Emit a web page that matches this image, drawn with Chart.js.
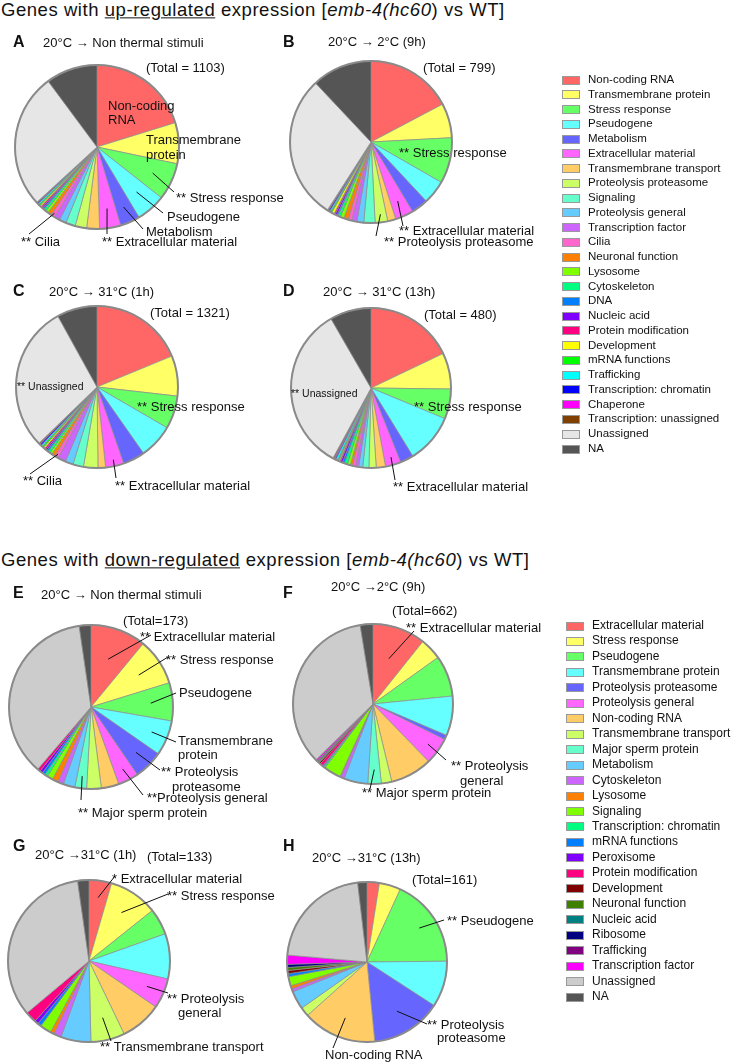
<!DOCTYPE html>
<html>
<head>
<meta charset="utf-8">
<script src="https://cdn.jsdelivr.net/npm/chart.js@4.4.1/dist/chart.umd.min.js"></script>
<style>
    body { margin: 0; background: #fff; }
    #fig {
        position: relative; width: 738px; height: 1063px; overflow: hidden;
        font-family: "Liberation Sans", Arial, Helvetica, sans-serif; color: #111;
    }
    #fig canvas { position: absolute; }
    .t { position: absolute; white-space: nowrap; line-height: 1.15; transform: translateY(-50%); }
    .title { font-size: 18.5px; letter-spacing: 0.55px; }
    .letter { font-size: 16px; font-weight: bold; }
    .sub, .total { font-size: 13px; }
    .leg { font-size: 11.5px; }
    .leg2 { font-size: 12px; }
    .sw { position: absolute; box-sizing: border-box; border: 1.5px solid #999; }
</style>
</head>
<body>
<div id="fig"></div>
<script>
/* ---- 상향 조절 유전자 카테고리 (A-D) ---- */
var upCategories = ['Non-coding RNA', 'Transmembrane protein', 'Stress response', 'Pseudogene', 'Metabolism',
    'Extracellular material', 'Transmembrane transport', 'Proteolysis proteasome', 'Signaling', 'Proteolysis general',
    'Transcription factor', 'Cilia', 'Neuronal function', 'Lysosome', 'Cytoskeleton', 'DNA', 'Nucleic acid',
    'Protein modification', 'Development', 'mRNA functions', 'Trafficking', 'Transcription: chromatin', 'Chaperone',
    'Transcription: unassigned', 'Unassigned', 'NA'];
var upColors = ['#ff6666', '#ffff66', '#66ff66', '#66ffff', '#6666ff', '#ff66ff', '#ffcc66', '#ccff66', '#66ffcc',
    '#66ccff', '#cc66ff', '#ff66cc', '#ff8000', '#80ff00', '#00ff80', '#0080ff', '#8000ff', '#ff0080', '#ffff00',
    '#00ff00', '#00ffff', '#0000ff', '#ff00ff', '#804000', '#e6e6e6', '#555555'];

var upA = [223, 89, 81, 64, 43, 46, 28, 25, 21, 15, 12, 9, 8, 6, 5, 3, 3, 3, 3, 3, 3, 2, 1, 1, 294, 112];
var upB = [138, 55, 73, 38, 27, 29, 13, 20, 18, 11, 8, 6, 7, 6, 4, 2, 3, 2, 4, 2, 2, 2, 1, 1, 231, 96];
var upC = [248, 106, 87, 91, 58, 48, 20, 38, 28, 21, 21, 10, 9, 6, 6, 4, 4, 4, 4, 4, 4, 4, 2, 2, 386, 106];
var upD = [86, 35, 29, 48, 13, 15, 9, 7, 6, 4, 3, 3, 2, 3, 3, 2, 2, 1, 1, 1, 2, 1, 1, 1, 162, 40];

/* ---- 하향 조절 유전자 카테고리 (E-H) ---- */
var downCategories = ['Extracellular material', 'Stress response', 'Pseudogene', 'Transmembrane protein',
    'Proteolysis proteasome', 'Proteolysis general', 'Non-coding RNA', 'Transmembrane transport',
    'Major sperm protein', 'Metabolism', 'Cytoskeleton', 'Lysosome', 'Signaling', 'Transcription: chromatin',
    'mRNA functions', 'Peroxisome', 'Protein modification', 'Development', 'Neuronal function', 'Nucleic acid',
    'Ribosome', 'Trafficking', 'Transcription factor', 'Unassigned', 'NA'];
var downColors = ['#ff6666', '#ffff66', '#66ff66', '#66ffff', '#6666ff', '#ff66ff', '#ffcc66', '#ccff66', '#66ffcc',
    '#66ccff', '#cc66ff', '#ff8000', '#80ff00', '#00ff80', '#0080ff', '#8000ff', '#ff0080', '#800000', '#408000',
    '#008080', '#000080', '#800080', '#ff00ff', '#cccccc', '#555555'];

var downE = [19, 16, 13, 12, 10, 7, 6, 5, 4, 4, 2, 2, 2, 1, 1, 1, 1, 0, 0, 0, 0, 0, 0, 63, 4];
var downF = [71, 29, 55, 53, 6, 36, 56, 14, 18, 32, 5, 1, 23, 2, 1, 1, 4, 2, 1, 1, 1, 1, 2, 230, 17];
var downG = [6, 13, 7, 12, 0, 8, 11, 9, 0, 8, 2, 1, 3, 0, 1, 1, 3, 0, 0, 0, 0, 0, 0, 45, 3];
var downH = [4, 7, 29, 15, 23, 0, 24, 3, 0, 6, 1, 1, 3, 0, 1, 0, 0, 1, 1, 0, 1, 0, 3, 35, 3];

(function() {
    'use strict';

    var fig = document.getElementById('fig');
    var FONT = '"Liberation Sans", Arial, Helvetica, sans-serif';

    /* 텍스트 배치 헬퍼: x = 왼쪽, y = 세로 중앙 */
    function addText(html, x, y, cls) {
        var el = document.createElement('div');
        el.className = 't ' + cls;
        el.style.left = x + 'px';
        el.style.top = y + 'px';
        el.innerHTML = html;
        fig.appendChild(el);
        return el;
    }

    /* ---- 패널 설정 (pie 중심/반지름, 제목, 주석) ---- */
    var panels = [
        { letter: 'A', cx: 97, cy: 147, r: 82, cats: upCategories, colors: upColors, values: upA,
          pos: [13, 42, 43, 43, 146, 68], sub: '20°C → Non thermal stimuli', total: '(Total = 1103)',
          notes: [
            { text: [['Non-coding', 11, -41], ['RNA', 11, -27]] },
            { text: [['Transmembrane', 49, -7], ['protein', 49, 8]] },
            { slice: 'Stress response', f: 0.75, end: [77, 45], text: [['** Stress response', 79, 51]] },
            { slice: 'Pseudogene', f: 0.73, end: [66, 66], text: [['Pseudogene', 70, 70]] },
            { slice: 'Metabolism', f: 0.8, end: [46, 82], text: [['Metabolism', 49, 85]] },
            { slice: 'Extracellular material', f: 0.76, end: [10, 87], text: [['** Extracellular material', 5, 95]] },
            { slice: 'Cilia', f: 0.96, end: [-68, 87], text: [['** Cilia', -76, 95]] }
          ] },
        { letter: 'B', cx: 371, cy: 142, r: 81, cats: upCategories, colors: upColors, values: upB,
          pos: [283, 42, 328, 42, 423, 68], sub: '20°C → 2°C (9h)', total: '(Total = 799)',
          notes: [
            { text: [['** Stress response', 28, 11]] },
            { slice: 'Extracellular material', f: 0.8, end: [32, 84], text: [['** Extracellular material', 28, 89]] },
            { slice: 'Proteolysis proteasome', f: 0.9, end: [5, 94], text: [['** Proteolysis proteasome', 13, 100]] }
          ] },
        { letter: 'C', cx: 97, cy: 387, r: 81, cats: upCategories, colors: upColors, values: upC,
          pos: [13, 291, 49, 292, 150, 313], sub: '20°C → 31°C (1h)', total: '(Total = 1321)',
          notes: [
            { small: true, text: [['** Unassigned', -80, 0]] },
            { text: [['** Stress response', 40, 20]] },
            { slice: 'Cilia', f: 0.96, end: [-67, 87], text: [['** Cilia', -74, 94]] },
            { slice: 'Extracellular material', f: 0.92, end: [19, 91], text: [['** Extracellular material', 18, 99]] }
          ] },
        { letter: 'D', cx: 371, cy: 388, r: 80, cats: upCategories, colors: upColors, values: upD,
          pos: [283, 291, 323, 292, 424, 315], sub: '20°C → 31°C (13h)', total: '(Total = 480)',
          notes: [
            { small: true, text: [['** Unassigned', -80, 6]] },
            { text: [['** Stress response', 43, 19]] },
            { slice: 'Extracellular material', f: 0.9, end: [24, 92], text: [['** Extracellular material', 22, 99]] }
          ] },
        { letter: 'E', cx: 91, cy: 707, r: 82, cats: downCategories, colors: downColors, values: downE,
          pos: [13, 593, 41, 595, 123, 621], sub: '20°C → Non thermal stimuli', total: '(Total=173)',
          notes: [
            { slice: 'Extracellular material', f: 0.62, end: [60, -72], text: [['** Extracellular material', 49, -70]] },
            { slice: 'Stress response', f: 0.7, end: [77, -50], text: [['** Stress response', 75, -47]] },
            { slice: 'Pseudogene', f: 0.73, end: [85, -14], text: [['Pseudogene', 88, -14]] },
            { slice: 'Transmembrane protein', f: 0.8, end: [85, 35], text: [['Transmembrane', 87, 34], ['protein', 87, 48]] },
            { slice: 'Proteolysis proteasome', f: 0.78, end: [69, 63], text: [['** Proteolysis', 70, 65], ['proteasome', 81, 80]] },
            { slice: 'Proteolysis general', f: 0.85, end: [52, 88], text: [['**Proteolysis general', 56, 91]] },
            { slice: 'Major sperm protein', f: 0.85, end: [-10, 93], text: [['** Major sperm protein', -13, 106]] }
          ] },
        { letter: 'F', cx: 373, cy: 704, r: 80, cats: downCategories, colors: downColors, values: downF,
          pos: [283, 593, 331, 587, 392, 611], sub: '20°C →2°C (9h)', total: '(Total=662)',
          notes: [
            { slice: 'Extracellular material', f: 0.6, end: [41, -73], text: [['** Extracellular material', 33, -76]] },
            { slice: 'Proteolysis general', f: 0.85, end: [73, 56], text: [['** Proteolysis', 78, 62], ['general', 87, 77]] },
            { slice: 'Major sperm protein', f: 0.82, end: [-3, 85], text: [['** Major sperm protein', -11, 89]] }
          ] },
        { letter: 'G', cx: 89, cy: 961, r: 81, cats: downCategories, colors: downColors, values: downG,
          pos: [13, 846, 35, 855, 147, 857], sub: '20°C →31°C (1h)', total: '(Total=133)',
          notes: [
            { slice: 'Extracellular material', f: 0.79, end: [26, -85], text: [['* Extracellular material', 23, -82]] },
            { slice: 'Stress response', f: 0.72, end: [79, -67], text: [['** Stress response', 78, -65]] },
            { slice: 'Proteolysis general', f: 0.78, end: [79, 32], text: [['** Proteolysis', 78, 38], ['general', 89, 52]] },
            { slice: 'Transmembrane transport', f: 0.72, end: [22, 80], text: [['** Transmembrane transport', 11, 86]] }
          ] },
        { letter: 'H', cx: 367, cy: 962, r: 80, cats: downCategories, colors: downColors, values: downH,
          pos: [283, 846, 312, 858, 412, 880], sub: '20°C →31°C (13h)', total: '(Total=161)',
          notes: [
            { slice: 'Pseudogene', f: 0.78, end: [77, -42], text: [['** Pseudogene', 80, -41]] },
            { slice: 'Proteolysis proteasome', f: 0.72, end: [60, 62], text: [['** Proteolysis', 60, 63], ['proteasome', 70, 76]] },
            { slice: 'Non-coding RNA', f: 0.75, end: [-34, 86], text: [['Non-coding RNA', -42, 93]] }
          ] }
    ];

    /* ---- 플러그인: 외곽 테두리 + 주석/지시선 (패널 정보는 canvas에 보관) ---- */
    var pieNotes = {
        id: 'pieNotes',
        afterDatasetsDraw: function(chart) {
            var p = chart.canvas._panel;
            if (!p) return;
            var ctx = chart.ctx;
            var arcs = chart.getDatasetMeta(0).data;
            var c = arcs[0].getProps(['x', 'y', 'outerRadius'], true);

            ctx.save();
            ctx.beginPath();
            ctx.arc(c.x, c.y, c.outerRadius, 0, Math.PI * 2);
            ctx.lineWidth = 2;
            ctx.strokeStyle = '#8a8a8a';
            ctx.stroke();

            ctx.fillStyle = '#111';
            ctx.strokeStyle = '#111';
            ctx.lineWidth = 1;
            ctx.textBaseline = 'middle';
            p.notes.forEach(function(n) {
                if (n.slice) {
                    var idx = p.cats.indexOf(n.slice);
                    var a = arcs[idx].getProps(['startAngle', 'endAngle'], true);
                    var ang = a.startAngle + (a.endAngle - a.startAngle) * (n.t === undefined ? 0.5 : n.t);
                    var rr = c.outerRadius * n.f;
                    ctx.beginPath();
                    ctx.moveTo(c.x + Math.cos(ang) * rr, c.y + Math.sin(ang) * rr);
                    ctx.lineTo(c.x + n.end[0], c.y + n.end[1]);
                    ctx.stroke();
                }
                ctx.font = (n.small ? '10.5px ' : '13px ') + FONT;
                n.text.forEach(function(t) {
                    ctx.fillText(t[0], c.x + t[1], c.y + t[2]);
                });
            });
            ctx.restore();
        }
    };

    var W = 300, H = 235, OX = 100, OY = 115;

    panels.forEach(function(p) {
        var cv = document.createElement('canvas');
        cv.width = W;
        cv.height = H;
        cv.style.left = (p.cx - OX) + 'px';
        cv.style.top = (p.cy - OY) + 'px';
        cv._panel = p;
        fig.appendChild(cv);

        new Chart(cv, {
            type: 'pie',
            data: {
                labels: p.cats,
                datasets: [{
                    data: p.values,
                    backgroundColor: p.colors,
                    borderColor: '#8c8c8c',
                    borderWidth: 0.7
                }]
            },
            options: {
                responsive: false,
                animation: false,
                radius: p.r,
                layout: { padding: { left: OX - 95, top: OY - 95, right: W - OX - 95, bottom: H - OY - 95 } },
                plugins: {
                    legend: { display: false },
                    tooltip: { enabled: false }
                }
            },
            plugins: [pieNotes]
        });

        addText(p.letter, p.pos[0], p.pos[1], 'letter');
        addText(p.sub, p.pos[2], p.pos[3], 'sub');
        addText(p.total, p.pos[4], p.pos[5], 'total');
    });

    /* ---- 섹션 제목 ---- */
    addText('Genes with <u>up-regulated</u> expression [<i>emb-4(hc60</i>) vs WT]', 1, 10, 'title');
    addText('Genes with <u>down-regulated</u> expression [<i>emb-4(hc60</i>) vs WT]', 1, 560, 'title');

    /* ---- 범례 (HTML) ---- */
    function legend(cats, colors, x, y0, step, cls) {
        cats.forEach(function(name, i) {
            var y = y0 + i * step;
            var sw = document.createElement('div');
            sw.className = 'sw';
            sw.style.left = x + 'px';
            sw.style.top = (y - 4.5) + 'px';
            sw.style.width = '18px';
            sw.style.height = '9px';
            sw.style.background = colors[i];
            fig.appendChild(sw);
            addText(name, x + 26, y, cls);
        });
    }
    legend(upCategories, upColors, 562, 80, 14.76, 'leg');
    legend(downCategories, downColors, 566, 626, 15.46, 'leg2');
})();
</script>
</body>
</html>
